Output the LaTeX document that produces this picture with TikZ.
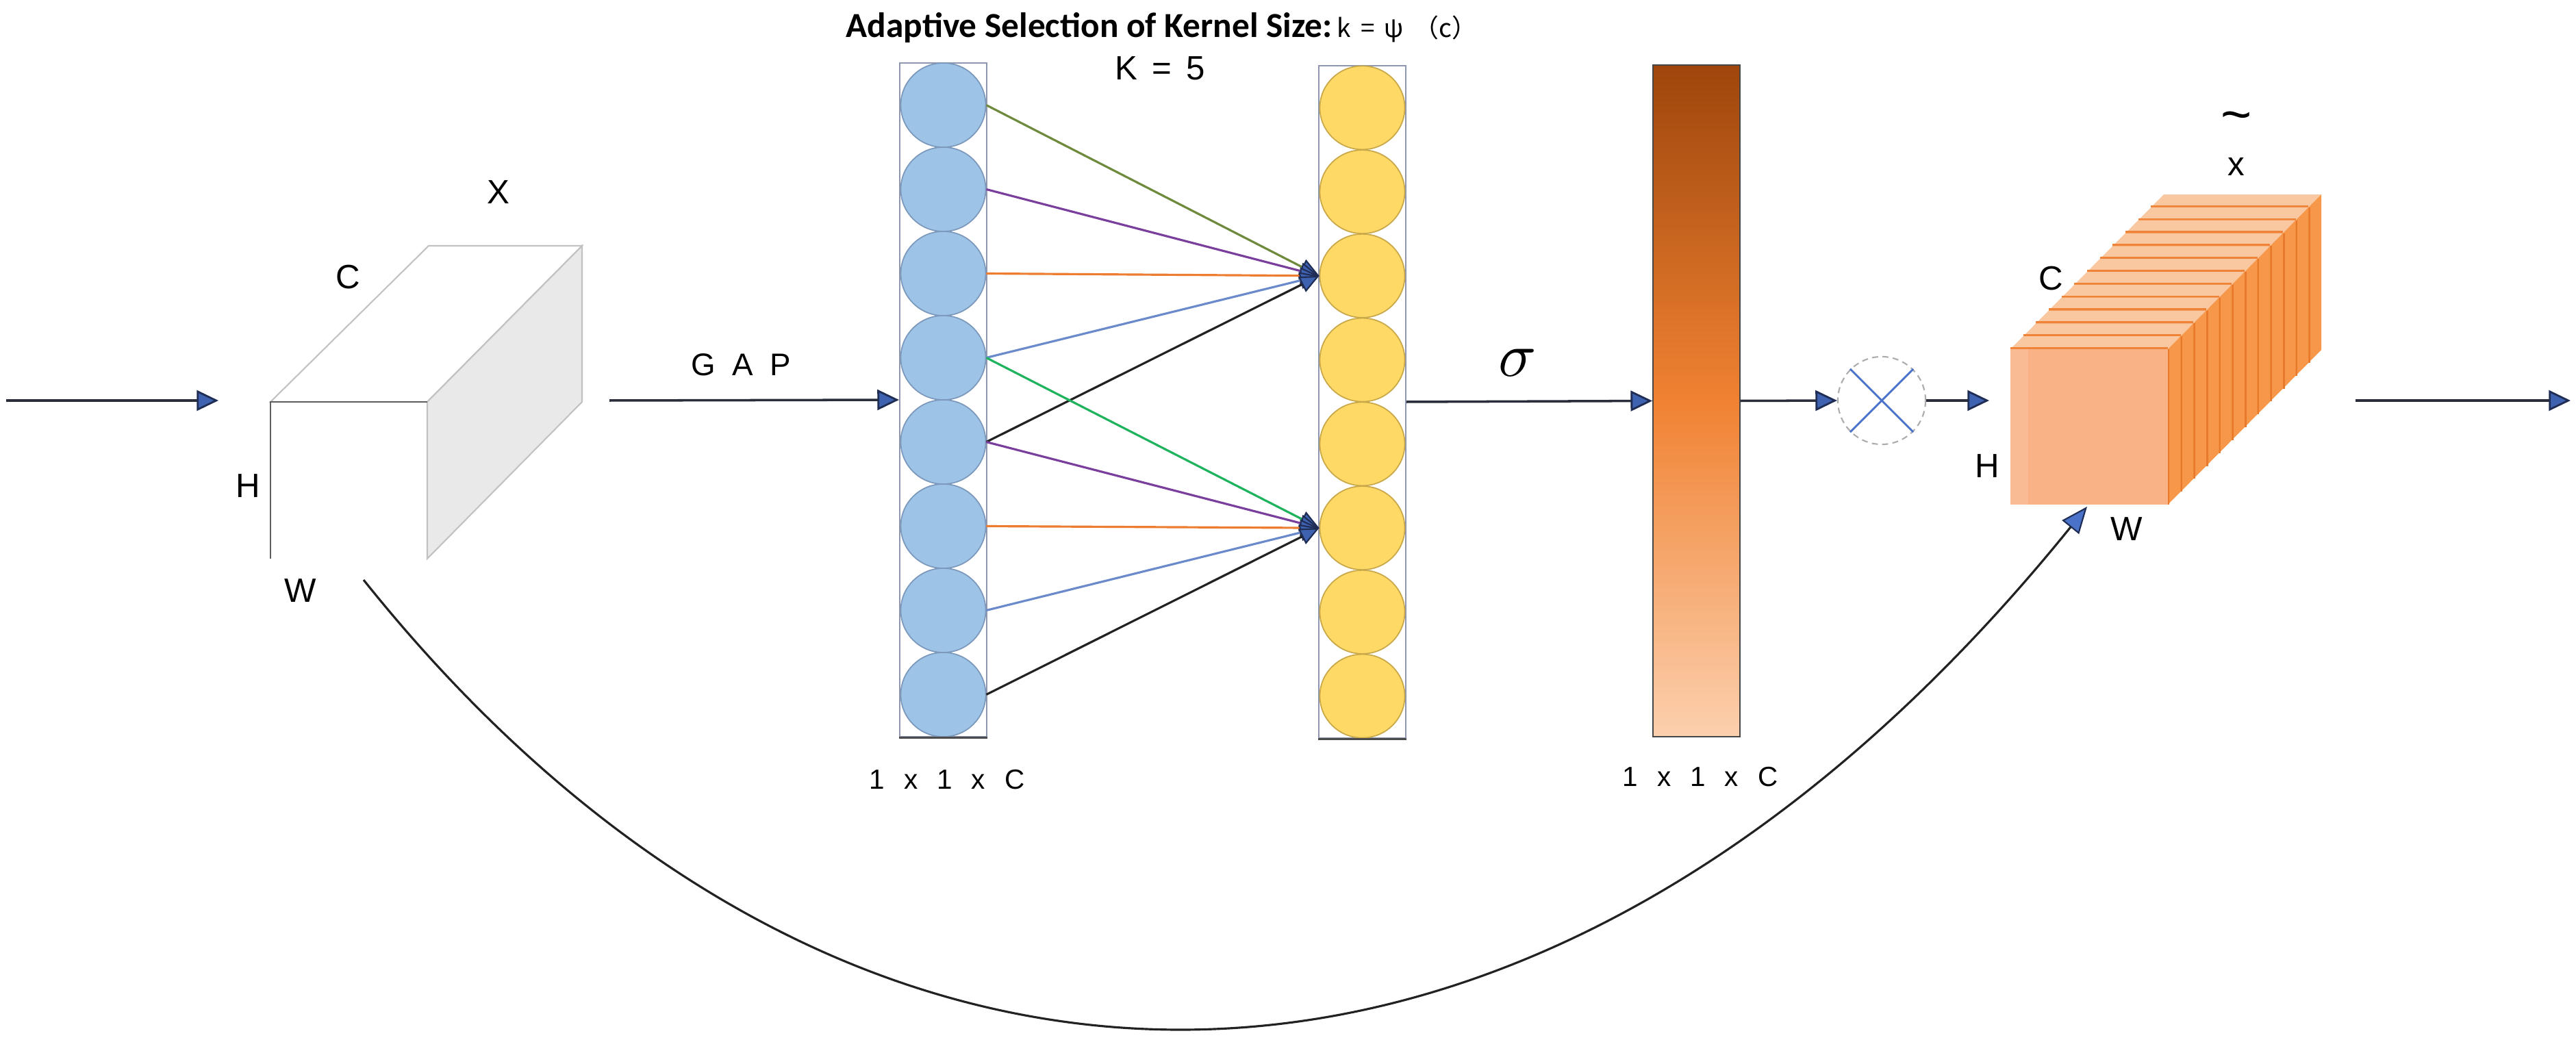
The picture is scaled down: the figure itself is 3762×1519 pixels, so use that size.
\documentclass[tikz,border=0pt]{standalone}
\usepackage{fontspec}
\setmainfont{Liberation Sans}
\newfontfamily\titlefont{Carlito}
\newfontfamily\cjkfont{Noto Sans CJK SC}
\usetikzlibrary{arrows.meta,shapes.geometric,calc}
\definecolor{navy}{HTML}{1F2D55}
\definecolor{tipblue}{HTML}{3E62B0}
\definecolor{flow}{HTML}{2A2E3A}
\definecolor{bluefill}{HTML}{9DC3E6}
\definecolor{blueedge}{HTML}{7C99BC}
\definecolor{yelfill}{HTML}{FFD966}
\definecolor{yeledge}{HTML}{C8A848}
\definecolor{colbox}{HTML}{8E96B0}
\definecolor{cOlive}{HTML}{6E8B3D}
\definecolor{cGreen}{HTML}{1FB35E}
\definecolor{cPurple}{HTML}{7A3E9D}
\definecolor{cOrange}{HTML}{ED7D31}
\definecolor{cBlue}{HTML}{6A8ACB}
\definecolor{cBlack}{HTML}{222222}
\definecolor{xblue}{HTML}{4A72C8}
\definecolor{cubeline}{HTML}{C2C2C2}
\definecolor{cubeside}{HTML}{E9E9E9}
\definecolor{ctopc}{HTML}{F9C7A0}
\definecolor{ctopl}{HTML}{EF8438}
\definecolor{csidec}{HTML}{F7974A}
\definecolor{csidel}{HTML}{E8792A}
\definecolor{cfrontc}{HTML}{F8B285}
\definecolor{obartop}{HTML}{9E460C}
\definecolor{obarmid}{HTML}{F08232}
\definecolor{obarbot}{HTML}{FCD0AE}
\begin{document}
\begin{tikzpicture}[x=0.01cm,y=-0.01cm,
  lbl/.style={font=\fontsize{14}{16}\selectfont, inner sep=0pt},
  flowarrow/.style={draw=flow, line width=1pt,
    -{Triangle[length=9pt,width=8.5pt,color=navy,fill=tipblue,line width=0.8pt]}},
  kernel/.style={line width=0.9pt,
    -{Triangle[length=8pt,width=7pt,color=navy,fill=tipblue,line width=0.6pt]}},
  colrect/.style={rectangle, draw=colbox, line width=0.6pt, minimum width=1.27cm, inner sep=0pt},
  bcirc/.style={ellipse, fill=bluefill, draw=blueedge, line width=0.5pt, minimum width=1.24cm, minimum height=1.23cm, inner sep=0pt},
  ycirc/.style={ellipse, fill=yelfill, draw=yeledge, line width=0.5pt, minimum width=1.24cm, minimum height=1.22cm, inner sep=0pt},
  ctop/.style={fill=ctopc},
  cside/.style={fill=csidec},
  cline/.style={draw=ctopl, line width=1.8pt},
  csline/.style={draw=csidel, line width=1.4pt}
]
\useasboundingbox (0,0) rectangle (3762,1519);

% ---------- title ----------
\node[anchor=base west, inner sep=0pt] (title) at (1235,55)
  {\titlefont\bfseries\fontsize{14.6}{16}\selectfont Adaptive Selection of Kernel Size:\normalfont\cjkfont\fontsize{10.5}{12}\selectfont\hspace{2pt}k\hspace{4pt}=\hspace{4pt}ψ\hspace{4pt}（c）};
\node[lbl] (k5) at (1694,100) {K\hspace{6pt}=\hspace{6pt}5};

% ---------- input cube ----------
\filldraw[fill=white, draw=cubeline, line width=0.6pt] (395,587) -- (624,587) -- (850,359) -- (626,359) -- cycle;
\filldraw[fill=cubeside, draw=cubeline, line width=0.6pt] (624,587) -- (850,359) -- (850,587) -- (624,816) -- cycle;
\draw[draw=gray!75!black, line width=0.6pt] (395,816) -- (395,587) -- (624,587);
\node[lbl] (lX) at (728,281) {X};
\node[lbl] (lC) at (508,405) {C};
\node[lbl] (lH) at (362,710) {H};
\node[lbl] (lW) at (439,863) {W};

\coordinate (inA) at (9,585);
\coordinate (inB) at (319,585);
\draw[flowarrow] (inA) -- (inB);

\coordinate (gapA) at (890,585);
\node[lbl, font=\fontsize{13}{15}\selectfont] (gap) at (1082,533) {G\hspace{7pt}A\hspace{7pt}P};

% ---------- blue column ----------
\node[colrect, minimum height=9.84cm] (bcol) at (1377.5,584) {};
\foreach \i in {1,...,8} {
  \node[bcirc] (b\i) at (1377.5,{92+123*(\i-0.5)}) {};
}
\draw[gray!60!black, line width=0.8pt] (bcol.south west) -- (bcol.south east);
\draw[flowarrow] (gapA) -- (bcol.west);
\node[lbl, font=\fontsize{11.5}{13}\selectfont] (lab1) at (1383,1139) {1\hspace{8pt}x\hspace{8pt}1\hspace{8pt}x\hspace{8pt}C};

% ---------- yellow column ----------
\node[colrect, minimum height=9.82cm] (ycol) at (1989.5,587) {};
\foreach \i in {1,...,8} {
  \node[ycirc] (y\i) at (1989.5,{96+122.75*(\i-0.5)}) {};
}
\draw[gray!60!black, line width=0.8pt] (ycol.south west) -- (ycol.south east);

% ---------- kernel connections ----------
\draw[kernel, draw=cOlive]  (b1.east) -- (y3.west);
\draw[kernel, draw=cPurple] (b2.east) -- (y3.west);
\draw[kernel, draw=cOrange] (b3.east) -- (y3.west);
\draw[kernel, draw=cBlue]   (b4.east) -- (y3.west);
\draw[kernel, draw=cBlack]  (b5.east) -- (y3.west);
\draw[kernel, draw=cGreen]  (b4.east) -- (y6.west);
\draw[kernel, draw=cPurple] (b5.east) -- (y6.west);
\draw[kernel, draw=cOrange] (b6.east) -- (y6.west);
\draw[kernel, draw=cBlue]   (b7.east) -- (y6.west);
\draw[kernel, draw=cBlack]  (b8.east) -- (y6.west);

% ---------- sigma bar ----------
\node[rectangle, draw=gray!55!black, line width=0.5pt, top color=obartop, bottom color=obarbot, middle color=obarmid,
      minimum width=1.27cm, minimum height=9.81cm, inner sep=0pt] (obar) at (2477.5,585.5) {};
\draw[flowarrow] (ycol.east) -- (obar.west);
\node[inner sep=0pt] (sig) at (2216,530) {\scalebox{2.6}{$\sigma$}};
\node[lbl, font=\fontsize{11.5}{13}\selectfont] (lab2) at (2483,1135) {1\hspace{8pt}x\hspace{8pt}1\hspace{8pt}x\hspace{8pt}C};

% ---------- multiply ----------
\node[circle, draw=gray!65, dash pattern=on 2.5pt off 1.8pt, line width=0.6pt, minimum size=1.28cm, inner sep=0pt] (ot) at (2748,585) {};
\draw[xblue, line width=0.8pt] (ot.north west) -- (ot.south east);
\draw[xblue, line width=0.8pt] (ot.north east) -- (ot.south west);
\draw[flowarrow] (obar.east) -- (ot.west);
\coordinate (c2in) at (2905,585);
\draw[flowarrow] (ot.east) -- (c2in);

% ---------- output cube (stack of plates) ----------
\foreach \k in {11,...,0} {
  \pgfmathsetmacro\ox{\k*18.67}
  \pgfmathsetmacro\oy{-\k*18.83}
  \fill[ctop] ({2936+\ox},{510+\oy}) -- ({3166+\ox},{510+\oy}) -- ({3184.67+\ox},{491.17+\oy}) -- ({2954.67+\ox},{491.17+\oy}) -- cycle;
  \fill[cside] ({3166+\ox},{510+\oy}) -- ({3184.67+\ox},{491.17+\oy}) -- ({3184.67+\ox},{718.17+\oy}) -- ({3166+\ox},{737+\oy}) -- cycle;
  \draw[cline] ({2936+\ox},{510+\oy}) -- ({3166+\ox},{510+\oy});
  \draw[csline] ({3166+\ox},{510+\oy}) -- ({3166+\ox},{737+\oy});
}
\fill[cfrontc] (2936,510) rectangle (3166,737);
\fill[white, opacity=0.12] (2936,510) rectangle (2962,737);
\node[lbl] (rC) at (2995,407) {C};
\node[lbl] (rH) at (2902,681) {H};
\node[lbl] (rW) at (3106,773) {W};
\node[lbl] (rx) at (3266,244) {x};
\node[inner sep=0pt] (rtil) at (3266,178) {\fontsize{22}{24}\selectfont\textasciitilde};

\coordinate (outA) at (3440,585);
\coordinate (outB) at (3754,585);
\draw[flowarrow] (outA) -- (outB);

% ---------- skip connection ----------
\coordinate (skipA) at (531,847);
\coordinate (skipB) at (3048,740);
\draw[draw=cBlack, line width=0.9pt,
  -{Triangle[length=11pt,width=9pt,color=navy,fill=xblue,line width=0.6pt]}]
  (skipA) .. controls (1241,1735) and (2243,1736) .. (skipB);
\end{tikzpicture}
\end{document}
